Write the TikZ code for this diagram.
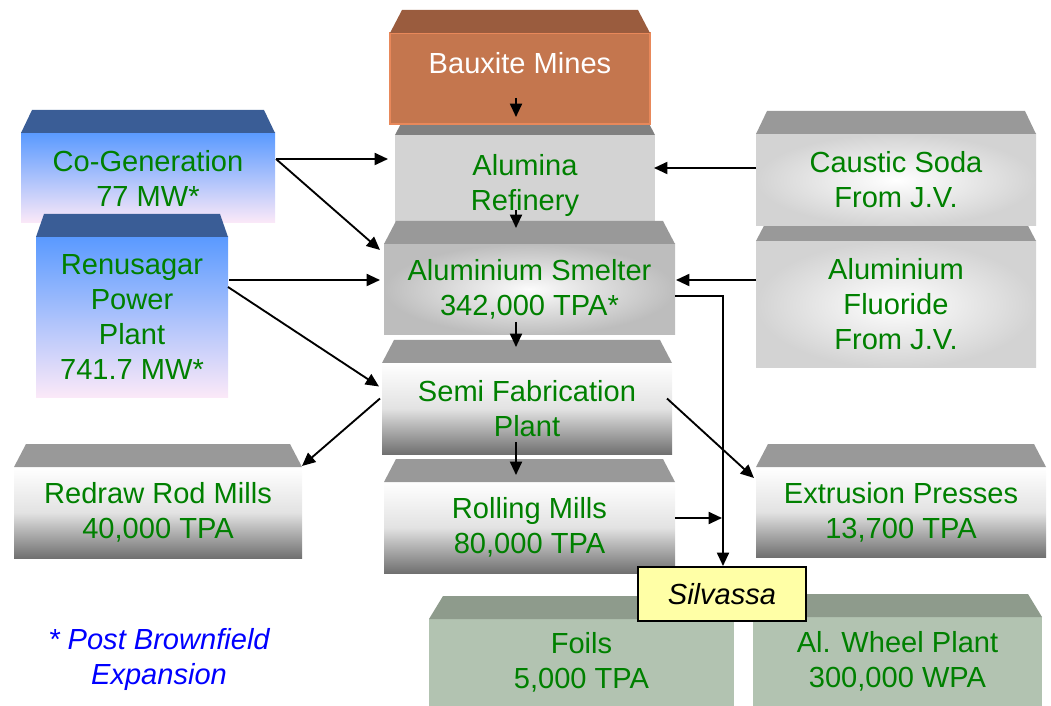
\documentclass[tikz,border=0pt]{standalone}
\usepackage{fontspec}
\setmainfont{Liberation Sans}
\usetikzlibrary{arrows.meta,calc}
\definecolor{txtgreen}{RGB}{0,128,0}
\definecolor{bevgray}{RGB}{153,153,153}
\definecolor{bevdark}{RGB}{128,128,128}
\definecolor{bxtop}{RGB}{154,92,62}
\definecolor{bxfront}{RGB}{196,118,78}
\definecolor{bxedge}{RGB}{232,136,90}
\definecolor{bluetop}{RGB}{58,93,150}
\definecolor{blueA}{RGB}{90,154,255}
\definecolor{blueB}{RGB}{133,194,255}
\definecolor{pinkC}{RGB}{252,233,248}
\definecolor{sagetop}{RGB}{142,155,140}
\definecolor{sagefront}{RGB}{178,195,177}
\definecolor{silv}{RGB}{255,255,166}
\definecolor{darkbot}{RGB}{112,112,112}
\definecolor{lightgray}{RGB}{211,211,211}
\definecolor{midgray}{RGB}{189,189,189}
\definecolor{legblue}{RGB}{0,0,255}
\newcommand\procbox[7]{%
  \pgfmathsetmacro\pbw{(#4-#2)*0.75}%
  \pgfmathsetmacro\pbh{(#5-#3)*0.75}%
  \node[box,#6,minimum width=\pbw pt,minimum height=\pbh pt] (#1) at ({(#2+#4)/2},{(#3+#5)/2}) {#7};%
}
\newcommand\bevel[3]{%
  \fill[#2] (#1.north west) -- ++(#3,-23) -- ($(#1.north east)+(-#3,-23)$) -- (#1.north east) -- cycle;%
}
\tikzset{
  box/.style={inner sep=0pt, outer sep=0pt, align=center, text=txtgreen,
    font=\fontsize{21.8}{26.25}\selectfont},
  vgrad/.style={top color=white, bottom color=darkbot, middle color=white!80!darkbot},
  radgray/.style={inner color=white!95!midgray, outer color=midgray},
  radlight/.style={inner color=white, outer color=lightgray},
  bluegrad/.style={top color=blueA, middle color=blueB, bottom color=pinkC},
  arr/.style={-{Triangle[length=10pt,width=9pt]}, line width=1.4pt, black},
}
\begin{document}
\begin{tikzpicture}[x=0.75pt,y=-0.75pt]
\useasboundingbox (0,0) rectangle (1051,706);
% power sources
\procbox{cogen}{21}{133}{275}{223}{bluegrad}{Co-Generation\\77 MW*}
\bevel{cogen}{bluetop}{11}
\procbox{renusagar}{36}{237}{228}{398}{bluegrad}{Renusagar\\Power\\Plant\\741.7 MW*}
\bevel{renusagar}{bluetop}{8}
% centre column
\procbox{alumina}{395}{135}{655}{222}{fill=lightgray}{\raisebox{-5.5pt}[\height][\depth]{\begin{tabular}{@{}c@{}}Alumina\\Refinery\end{tabular}}}
\bevel{alumina}{bevdark}{12}
\procbox{bauxite}{390}{33}{650}{124}{fill=bxfront, draw=bxedge, line width=1pt}{}
\bevel{bauxite}{bxtop}{12}
\node[box, text=white] (bauxitetext) at (520,63) {Bauxite Mines};
\procbox{smelter}{384}{244}{675}{335}{radgray}{Aluminium Smelter\\342,000 TPA*}
\bevel{smelter}{bevgray}{12}
\procbox{semi}{382}{363}{672}{454}{vgrad}{Semi Fabrication\\Plant}
\bevel{semi}{bevgray}{12}
\procbox{rolling}{384}{482}{675}{573}{vgrad}{Rolling Mills\\80,000 TPA}
\bevel{rolling}{bevgray}{12}
% suppliers
\procbox{fluoride}{756}{241}{1036}{368}{radlight}{Aluminium\\Fluoride\\From J.V.}
\bevel{fluoride}{bevgray}{12}
\procbox{caustic}{756}{134}{1036}{226}{radlight}{Caustic Soda\\From J.V.}
\bevel{caustic}{bevgray}{11}
% products
\procbox{redraw}{14}{467}{302}{558}{vgrad}{Redraw Rod Mills\\40,000 TPA}
\bevel{redraw}{bevgray}{12}
\procbox{extrusion}{756}{467}{1046}{557}{vgrad}{Extrusion Presses\\13,700 TPA}
\bevel{extrusion}{bevgray}{12}
\procbox{foils}{429}{619}{734}{706}{fill=sagefront}{Foils\\5,000 TPA}
\bevel{foils}{sagetop}{14}
\procbox{wheel}{753}{617}{1042}{706}{fill=sagefront}{Al. Wheel Plant\\300,000 WPA}
\bevel{wheel}{sagetop}{14}
\procbox{silvassa}{638}{567}{806}{621}{fill=silv, draw=black, line width=1pt, text=black, font=\fontsize{21.8}{26.25}\selectfont\itshape}{Silvassa}
% connectors
\draw[arr] ($(bauxite.south)+(-4,-26)$) -- ($(alumina.north)+(-9,-18)$);
\draw[arr] ($(alumina.south)+(-9,-12)$) -- ($(smelter.north)+(-13.5,-16)$);
\draw[arr] ($(smelter.south)+(-13.5,-13)$) -- ($(semi.north)+(-11,-16)$);
\draw[arr] ($(semi.south)+(-11,-12)$) -- ($(rolling.north)+(-13.5,-7)$);
\draw[arr] ($(cogen.east)+(1,-19)$) -- ($(alumina.west)+(-7,-19.5)$);
\draw[arr] ($(cogen.east)+(1,-19)$) -- ($(smelter.north west)+(-4,6)$);
\draw[arr] ($(renusagar.east)+(1,-37.5)$) -- ($(smelter.west)+(-4,-9.5)$);
\draw[arr] ($(renusagar.east)+(0,-30.5)$) -- ($(semi.west)+(-3,-22)$);
\draw[arr] ($(semi.west)+(-2,-10)$) -- ($(redraw.north east)+(0,-1)$);
\draw[arr] ($(semi.east)+(-5,-10)$) -- ($(extrusion.west)+(-2,-34)$);
\draw[arr] ($(caustic.west)+(0,-12)$) -- ($(alumina.east)+(-1,-10.5)$);
\draw[arr] ($(fluoride.west)+(0,-24.5)$) -- ($(smelter.east)+(1,-9.5)$);
\draw[arr] ($(smelter.east)+(0,6.5)$) -| ($(silvassa.north)+(1,-1)$);
\coordinate (rollout) at ($(rolling.east)+(0,-9.5)$);
\draw[arr] (rollout) -- (silvassa.north |- rollout);
% legend
\node[box, text=legblue, font=\fontsize{21.8}{26.25}\selectfont\itshape] (note) at (159,659) {* Post Brownfield\\Expansion};
\end{tikzpicture}
\end{document}
